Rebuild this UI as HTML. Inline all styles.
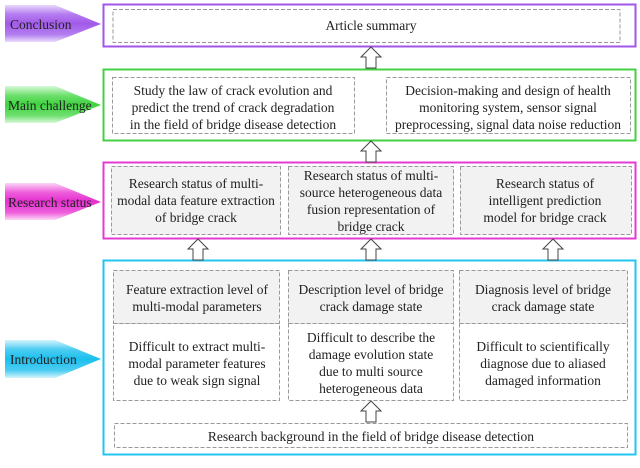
<!DOCTYPE html>
<html><head><meta charset="utf-8"><style>
html,body{margin:0;padding:0;background:#fff;}
text{font-family:'Liberation Serif','Times New Roman','DejaVu Serif',serif !important;font-size:13.5px;fill:#222;}
</style></head><body>
<svg width="640" height="463" viewBox="0 0 640 463" xmlns="http://www.w3.org/2000/svg" font-family="Liberation Serif, DejaVu Serif, serif">
<defs>
<linearGradient id="gP" x1="0" y1="0" x2="0" y2="1"><stop offset="0" stop-color="#e8d8fb"/><stop offset="0.25" stop-color="#b57cf0"/><stop offset="0.5" stop-color="#a25ae8"/><stop offset="0.8" stop-color="#b37ef0"/><stop offset="1" stop-color="#eadcfb"/></linearGradient>
<linearGradient id="gG" x1="0" y1="0" x2="0" y2="1"><stop offset="0" stop-color="#d8f8d8"/><stop offset="0.25" stop-color="#6fe06f"/><stop offset="0.5" stop-color="#3fd23f"/><stop offset="0.8" stop-color="#6fe06f"/><stop offset="1" stop-color="#daf8da"/></linearGradient>
<linearGradient id="gM" x1="0" y1="0" x2="0" y2="1"><stop offset="0" stop-color="#fbd6f5"/><stop offset="0.25" stop-color="#ee5fdc"/><stop offset="0.5" stop-color="#e52fd0"/><stop offset="0.8" stop-color="#ee5fdc"/><stop offset="1" stop-color="#fbd8f6"/></linearGradient>
<linearGradient id="gC" x1="0" y1="0" x2="0" y2="1"><stop offset="0" stop-color="#d4f3fd"/><stop offset="0.25" stop-color="#4ccdf2"/><stop offset="0.5" stop-color="#1cbfee"/><stop offset="0.8" stop-color="#4ccdf2"/><stop offset="1" stop-color="#d6f4fd"/></linearGradient>
<g id="arr"><polygon points="0,0 10,10 5,10 5,21 -5,21 -5,10 -10,10" fill="#fff" stroke="#444" stroke-width="1"/></g>
</defs>

<polygon points="5,5 55,5 101,24 55,42 5,42" fill="url(#gP)"/>
<text x="10" y="29">Conclusion</text>
<polygon points="5,86 55,86 101,105 55,123 5,123" fill="url(#gG)"/>
<text x="8" y="110">Main challenge</text>
<polygon points="5,183 55,183 101,202 55,220 5,220" fill="url(#gM)"/>
<text x="8" y="207">Research status</text>
<polygon points="5,340 55,340 101,359 55,378 5,378" fill="url(#gC)"/>
<text x="10" y="364">Introduction</text>

<rect x="103.5" y="4.5" width="532" height="42" fill="#fff" stroke="#a256e8" stroke-width="2"/>
<rect x="113" y="9.5" width="507" height="33" fill="none" stroke="#999" stroke-dasharray="4,2"/>
<text x="371" y="30" text-anchor="middle">Article summary</text>

<rect x="103.5" y="69.5" width="532" height="71" fill="#fff" stroke="#44d044" stroke-width="2"/>
<rect x="112.5" y="77.5" width="242" height="56" fill="none" stroke="#999" stroke-dasharray="4,2"/>
<rect x="386.5" y="77.5" width="244" height="56" fill="none" stroke="#999" stroke-dasharray="4,2"/>
<g text-anchor="middle">
<text x="233" y="95">Study the law of crack evolution and</text>
<text x="233" y="112">predict the trend of crack degradation</text>
<text x="233" y="129">in the field of bridge disease detection</text>
<text x="508" y="95">Decision-making and design of health</text>
<text x="508" y="112">monitoring system, sensor signal</text>
<text x="508" y="129">preprocessing, signal data noise reduction</text>
</g>

<rect x="103.5" y="162.5" width="532" height="76" fill="#fff" stroke="#e33bd2" stroke-width="2"/>
<rect x="111.5" y="166.5" width="169" height="68" fill="#f2f2f2" stroke="#999" stroke-dasharray="4,2"/>
<rect x="288.5" y="166.5" width="165" height="68" fill="#f2f2f2" stroke="#999" stroke-dasharray="4,2"/>
<rect x="460.5" y="166.5" width="171" height="68" fill="#f2f2f2" stroke="#999" stroke-dasharray="4,2"/>
<g text-anchor="middle">
<text x="196" y="188">Research status of multi-</text>
<text x="196" y="205">modal data feature extraction</text>
<text x="196" y="222">of bridge crack</text>
<text x="371" y="180">Research status of multi-</text>
<text x="371" y="197">source heterogeneous data</text>
<text x="371" y="214">fusion representation of</text>
<text x="371" y="231">bridge crack</text>
<text x="545" y="188">Research status of</text>
<text x="545" y="205">intelligent prediction</text>
<text x="545" y="222">model for bridge crack</text>
</g>

<rect x="103.5" y="260.5" width="532" height="194" fill="#fff" stroke="#22c4f0" stroke-width="2"/>
<rect x="113.5" y="270.5" width="166" height="53" fill="#f2f2f2" stroke="#999" stroke-dasharray="4,2"/>
<rect x="113.5" y="323.5" width="166" height="77" fill="#fff" stroke="#999" stroke-dasharray="4,2"/>
<rect x="288.5" y="270.5" width="165" height="53" fill="#f2f2f2" stroke="#999" stroke-dasharray="4,2"/>
<rect x="288.5" y="323.5" width="165" height="77" fill="#fff" stroke="#999" stroke-dasharray="4,2"/>
<rect x="459.5" y="270.5" width="168" height="53" fill="#f2f2f2" stroke="#999" stroke-dasharray="4,2"/>
<rect x="459.5" y="323.5" width="168" height="77" fill="#fff" stroke="#999" stroke-dasharray="4,2"/>
<rect x="114.5" y="423.5" width="513" height="24" fill="#fff" stroke="#999" stroke-dasharray="4,2"/>
<g text-anchor="middle">
<text x="197" y="294">Feature extraction level of</text>
<text x="197" y="311">multi-modal parameters</text>
<text x="197" y="351">Difficult to extract multi-</text>
<text x="197" y="368">modal parameter features</text>
<text x="197" y="385">due to weak sign signal</text>
<text x="371" y="294">Description level of bridge</text>
<text x="371" y="311">crack damage state</text>
<text x="371" y="342">Difficult to describe the</text>
<text x="371" y="359">damage evolution state</text>
<text x="371" y="376">due to multi source</text>
<text x="371" y="393">heterogeneous data</text>
<text x="543" y="294">Diagnosis level of bridge</text>
<text x="543" y="311">crack damage state</text>
<text x="543" y="351">Difficult to scientifically</text>
<text x="543" y="368">diagnose due to aliased</text>
<text x="543" y="385">damaged information</text>
<text x="371" y="441">Research background in the field of bridge disease detection</text>
</g>

<use href="#arr" x="371" y="47"/>
<use href="#arr" x="371" y="141"/>
<use href="#arr" x="198" y="239"/>
<use href="#arr" x="371" y="239"/>
<use href="#arr" x="553" y="239"/>
<use href="#arr" x="371" y="401"/>
</svg>
</body></html>
